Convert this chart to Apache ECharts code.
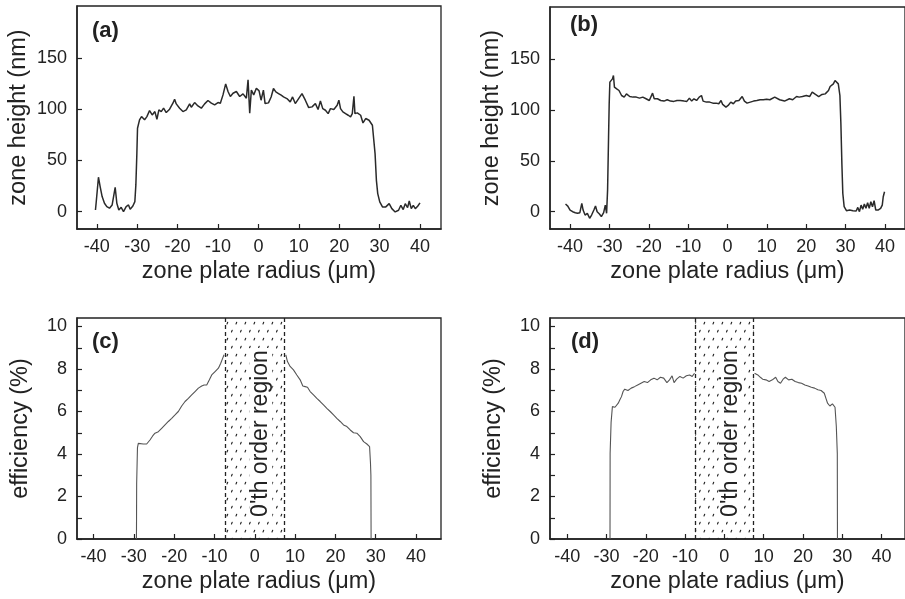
<!DOCTYPE html>
<html><head><meta charset="utf-8">
<script src="https://cdn.jsdelivr.net/npm/echarts@6/dist/echarts.min.js"></script>
<style>html,body{margin:0;padding:0;background:#fff}#c{width:905px;height:599px}</style>
</head><body><div id="c"></div>
<script>
// ---- tick values ----
const xTicks = [-40,-30,-20,-10,0,10,20,30,40];
const hTicks = [0,50,100,150];
const effTicks = [0,1,2,3,4,5,6,7,8,9,10];
const effLabels = [0,2,4,6,8,10];
const regionX = [-7.4, 7.4];
const regionText = "0'th order region";
const panelNames = ['(a)','(b)','(c)','(d)'];

// ---- (a) zone height ----
const aX = [-40.33,-40.17,-39.59,-39.17,-38.68,-38.10,-37.52,-36.86,-36.20,-35.87,-35.45,-35.04,-34.55,-33.97,-33.39,-32.73,-32.15,-31.74,-31.07,-30.58,-30.33,-30.08,-29.92,-29.42,-28.93,-28.60,-28.18,-27.60,-26.94,-26.28,-25.62,-25.12,-24.63,-24.05,-23.47,-22.81,-21.98,-21.16,-20.74,-20.33,-19.50,-18.68,-17.85,-17.02,-16.61,-15.79,-14.96,-14.13,-13.31,-12.48,-11.65,-10.83,-10.00,-9.42,-8.76,-8.10,-7.52,-6.94,-6.28,-5.45,-4.63,-3.80,-2.98,-2.56,-2.15,-1.74,-1.16,-0.50,
  0.17,0.66,1.24,1.66,2.49,3.15,3.73,4.32,4.98,5.64,6.22,7.05,7.88,8.46,9.13,9.96,10.79,11.62,12.45,13.28,14.11,14.77,15.35,15.93,16.60,17.26,17.84,18.67,19.50,19.92,20.33,20.91,21.58,22.24,22.82,23.24,23.65,23.90,24.48,25.31,25.89,26.56,27.39,28.22,28.63,28.88,29.21,29.54,30.04,30.71,31.54,32.37,33.03,33.86,34.69,35.27,35.85,36.35,36.93,37.34,37.84,38.34,38.84,39.42,40.00];
const aY = [1.6,8.2,33.6,24.5,14.7,8.2,4.9,3.3,6.5,8.2,23.8,8.2,1.6,4.2,0,4.9,6.5,2.3,5.5,9.8,26.1,57.1,81.5,89.7,92.9,94.5,89.7,92.9,98.8,94.5,97.8,90.3,99.4,97.8,101.1,96.8,100.1,106.0,109.9,105.3,101.1,97.8,99.4,105.3,102.0,106.6,103.3,101.1,105.3,108.6,106.0,104.3,106.6,106.0,114.1,124.9,117.4,112.5,115.7,117.4,112.5,115.1,110.8,128.8,96.2,118.9,114.1,120.6,
  118.0,108.9,118.7,105.6,106.3,112.1,120.3,117.0,115.4,113.8,112.1,110.5,107.3,112.1,105.6,110.5,115.4,108.9,101.7,102.4,105.6,99.8,108.2,100.7,99.1,95.8,100.7,99.8,104.0,108.9,100.7,97.5,95.8,94.2,92.6,95.8,112.8,95.8,96.5,94.2,86.7,91.0,89.3,84.4,82.8,56.7,30.6,17.6,9.5,4.6,4.6,7.8,2.9,-0.3,1.3,6.2,2.0,7.8,3.9,10.4,2.9,6.2,2.9,5.2,8.5];

// ---- (b) zone height ----
const bX = [-41.16,-40.58,-40.00,-39.34,-38.67,-38.09,-37.51,-37.02,-36.69,-36.19,-35.61,-35.03,-34.53,-33.95,-33.54,-33.12,-32.54,-32.05,-31.47,-31.05,-30.72,-30.47,-30.22,-30.06,-29.89,-29.56,-29.23,-28.98,-28.73,-28.15,-27.57,-26.91,-26.25,-25.67,-24.84,-24.01,-23.18,-22.35,-21.52,-20.70,-19.87,-19.04,-18.62,-17.80,-16.97,-16.14,-15.31,-14.48,-13.65,-12.83,-12.00,-11.58,-11.00,-10.34,-9.68,-9.10,-8.52,-7.85,-7.19,-6.61,-6.20,-5.37,-4.54,-3.71,-2.88,-2.22,-1.64,-1.23,-0.40,
  0.17,0.83,1.49,2.07,2.90,3.73,4.30,4.97,5.79,6.62,7.45,8.28,9.11,9.93,10.76,12.00,13.25,14.49,15.73,16.56,17.55,18.21,19.04,20.03,20.86,21.52,22.35,23.18,24.01,24.83,25.66,26.08,26.49,26.90,27.32,27.73,28.15,28.56,28.81,29.06,29.30,29.64,30.22,31.04,31.87,32.70,33.11,33.53,33.94,34.35,34.77,35.18,35.60,36.01,36.42,36.84,37.25,37.67,38.25,38.91,39.32,39.57,39.90];
const bY = [7.5,5.5,1.6,0,-1.0,-1.6,-1.0,8.2,1.6,-3.3,-1.6,-6.5,-3.3,1.6,5.5,0,-2.3,-4.9,-1.0,6.5,-1.6,21.2,73.4,106.0,127.2,125.5,130.4,133.7,122.3,120.6,119.0,114.1,112.5,115.7,113.1,112.5,112.5,111.5,112.5,110.9,109.2,116.4,110.9,110.9,109.2,108.6,109.9,108.6,108.3,109.2,109.2,110.9,108.6,108.3,111.5,108.6,110.9,109.2,112.5,114.1,108.6,107.6,107.6,106.6,106.6,106.0,109.2,105.3,102.7,
  104.3,107.6,106.0,108.6,109.2,113.1,108.6,106.6,107.6,108.6,109.2,109.9,109.9,110.5,109.9,112.5,109.9,108.6,110.9,109.9,113.1,112.5,113.1,114.1,113.1,117.4,115.1,113.1,115.1,115.7,119.0,122.9,122.3,125.5,128.8,128.8,125.5,114.1,86.4,47.3,17.9,4.9,1.0,1.6,1.0,0.7,4.2,0,6.5,2.3,7.5,3.3,8.8,3.3,9.8,4.9,10.8,1.6,1.6,3.3,6.5,14.7,19.6];

// ---- (c) efficiency ----
const cLeftX = [-29.35,-29.30,-29.10,-28.89,-28.48,-27.65,-26.82,-26.00,-25.33,-24.75,-23.92,-23.10,-22.27,-21.44,-20.61,-19.78,-18.96,-18.13,-17.30,-16.47,-15.65,-14.82,-13.99,-13.16,-12.58,-11.92,-11.26,-10.68,-9.85,-9.02,-8.44,-7.95,-7.62];
const cLeftY = [0,2.6,4.3,4.5,4.54,4.47,4.47,4.66,4.85,4.98,5.05,5.21,5.37,5.53,5.68,5.84,6.00,6.26,6.47,6.62,6.78,6.94,7.10,7.20,7.25,7.25,7.49,7.72,7.88,8.04,8.27,8.51,8.67];
const cRightX = [7.70,8.11,8.77,9.60,10.43,11.26,11.92,12.50,13.08,13.74,14.57,15.40,16.23,17.05,17.88,18.71,19.54,20.36,21.19,22.02,22.85,23.68,24.50,25.33,26.16,26.99,27.81,28.48,28.70,28.81,28.86];
const cRightY = [8.67,8.35,8.12,7.96,7.72,7.49,7.20,7.17,7.14,6.94,6.78,6.62,6.47,6.31,6.15,6.00,5.84,5.68,5.53,5.37,5.29,5.13,5.00,4.98,4.82,4.58,4.47,4.35,3.60,3.00,0];

// ---- (d) efficiency ----
const dLeftX = [-29.12,-29.09,-28.84,-28.51,-28.26,-27.85,-27.44,-27.02,-26.61,-26.20,-25.79,-25.37,-24.55,-23.72,-22.89,-22.07,-21.24,-20.41,-19.59,-18.76,-17.93,-17.11,-16.28,-15.45,-14.63,-13.97,-13.31,-12.81,-12.15,-11.32,-10.50,-9.67,-8.84,-8.18,-7.60];
const dLeftY = [0,4.03,5.5,6.23,6.31,6.20,6.22,6.39,6.55,6.70,6.94,7.05,6.99,7.10,7.17,7.25,7.33,7.41,7.36,7.49,7.57,7.49,7.61,7.57,7.36,7.49,7.68,7.36,7.52,7.65,7.57,7.68,7.72,7.65,7.80];
const dRightX = [7.69,8.51,9.17,9.75,10.58,11.40,12.23,13.06,13.64,14.30,14.96,15.54,16.36,17.19,18.02,18.84,19.67,20.50,21.32,22.15,22.98,23.80,24.63,25.45,25.87,26.28,26.86,27.52,28.18,28.51,28.76,28.80];
const dRightY = [7.80,7.72,7.61,7.52,7.49,7.41,7.49,7.61,7.41,7.33,7.52,7.61,7.49,7.52,7.41,7.36,7.33,7.25,7.20,7.14,7.10,7.02,6.99,6.86,6.62,6.39,6.26,6.36,6.20,5.29,4.03,0];

const zip = (xs, ys) => xs.map((x, i) => [x, ys[i]]);

const FONT = '"Liberation Sans", Arial, Helvetica, sans-serif';
const INK = '#222';

const pattern = (() => {
  const c = document.createElement('canvas');
  c.width = 9; c.height = 16;
  const g = c.getContext('2d');
  g.strokeStyle = '#222'; g.lineWidth = 1.1; g.lineCap = 'round';
  g.beginPath();
  g.moveTo(2, 4); g.lineTo(2.7, 2.2);
  g.moveTo(6.5, 12); g.lineTo(7.2, 10.2);
  g.stroke();
  return c;
})();

const grids = [
  {left: 77, top: 6, width: 364, height: 223},
  {left: 550, top: 7, width: 363, height: 222},
  {left: 77, top: 318, width: 364, height: 221},
  {left: 550, top: 318, width: 364, height: 221}
].map(g => Object.assign({show: true, borderColor: INK, borderWidth: 1.3, backgroundColor: 'transparent'}, g));

const xRanges = [[-44.9, 45.2], [-45.1, 45.1], [-44.1, 46.2], [-44.4, 46.0]];
const yRanges = [[-17, 201], [-17, 201], [0, 10.4], [0, 10.4]];

function xAxis(i) {
  return {
    type: 'value', gridIndex: i, min: xRanges[i][0], max: xRanges[i][1],
    splitLine: {show: false},
    axisLine: {onZero: false, lineStyle: {color: INK, width: 1.5}},
    axisTick: {inside: true, length: 5, customValues: xTicks, lineStyle: {color: INK, width: 1.2}},
    axisLabel: {customValues: xTicks, fontFamily: FONT, fontSize: 18, color: INK, margin: 9},
    name: 'zone plate radius (\u03bcm)', nameLocation: 'middle', nameGap: 31,
    nameTextStyle: {fontFamily: FONT, fontSize: 23.5, color: INK}
  };
}
function yAxis(i) {
  const eff = i >= 2;
  return {
    type: 'value', gridIndex: i, min: yRanges[i][0], max: yRanges[i][1],
    splitLine: {show: false},
    axisLine: {onZero: false, lineStyle: {color: INK, width: 1.5}},
    axisTick: {inside: true, length: 5, customValues: eff ? effTicks : hTicks, lineStyle: {color: INK, width: 1.2}},
    axisLabel: {customValues: eff ? effLabels : hTicks, fontFamily: FONT, fontSize: 18, color: INK, margin: 10},
    name: eff ? 'efficiency (%)' : 'zone height (nm)', nameLocation: 'middle', nameGap: eff ? 44 : 46,
    nameTextStyle: {fontFamily: FONT, fontSize: 23.5, color: INK}
  };
}

function heightSeries(i, data) {
  return {type: 'line', xAxisIndex: i, yAxisIndex: i, data, showSymbol: false, silent: true,
    lineStyle: {color: '#2a2a2a', width: 1.5}};
}
function effSeries(i, data, withRegion) {
  const s = {type: 'line', xAxisIndex: i, yAxisIndex: i, data, showSymbol: false, silent: true,
    lineStyle: {color: '#555', width: 1.1}};
  if (withRegion) {
    s.markArea = {silent: true,
      itemStyle: {color: {image: pattern, repeat: 'repeat'}},
      label: {show: true, position: 'inside', rotate: 90, formatter: regionText,
        fontFamily: FONT, fontSize: 23, color: INK, backgroundColor: '#fff', padding: [0, 2],
        offset: [-5, 6]},
      data: [[{xAxis: regionX[0]}, {xAxis: regionX[1]}]]};
    s.markLine = {silent: true, symbol: 'none', label: {show: false},
      lineStyle: {color: INK, width: 1.3, type: [4, 3]},
      data: [{xAxis: regionX[0]}, {xAxis: regionX[1]}]};
  }
  return s;
}

const titles = [
  {text: panelNames[0], left: 92, top: 20},
  {text: panelNames[1], left: 570, top: 14},
  {text: panelNames[2], left: 92, top: 331},
  {text: panelNames[3], left: 571, top: 331}
].map(t => Object.assign({padding: 0, textStyle: {fontFamily: FONT, fontSize: 22, fontWeight: 'bold', color: INK}}, t));

const chart = echarts.init(document.getElementById('c'), null, {renderer: 'canvas'});
chart.setOption({
  animation: false,
  backgroundColor: '#fff',
  title: titles,
  grid: grids,
  xAxis: [0,1,2,3].map(xAxis),
  yAxis: [0,1,2,3].map(yAxis),
  series: [
    heightSeries(0, zip(aX, aY)),
    heightSeries(1, zip(bX, bY)),
    effSeries(2, zip(cLeftX, cLeftY), true),
    effSeries(2, zip(cRightX, cRightY), false),
    effSeries(3, zip(dLeftX, dLeftY), true),
    effSeries(3, zip(dRightX, dRightY), false)
  ]
});
</script>
</body></html>
